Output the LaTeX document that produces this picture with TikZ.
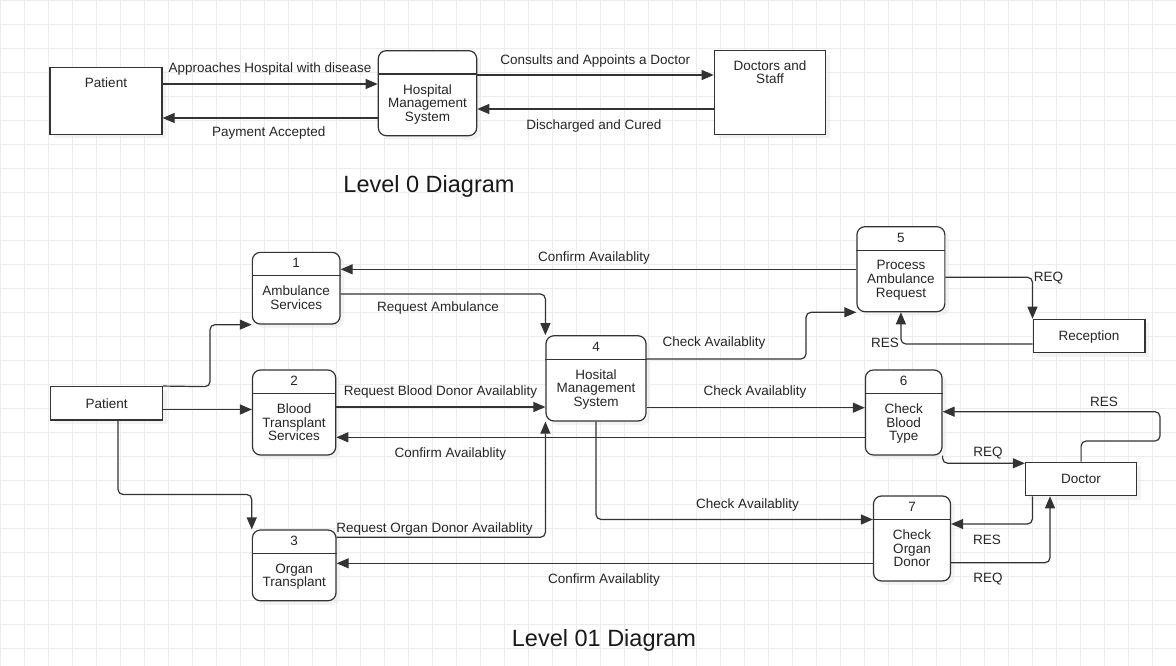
\documentclass[tikz,border=0pt]{standalone}
\usepackage{fontspec}
\setmainfont{Liberation Sans}
\usetikzlibrary{positioning, arrows.meta, shadows}

\definecolor{gridgray}{RGB}{236,236,236}
\definecolor{ink}{RGB}{51,51,51}
\definecolor{shade}{RGB}{232,232,232}

\tikzset{
  gridline/.style={draw=gridgray, line width=0.9pt},
  ent/.style={draw=ink, line width=1.2pt, fill=white, inner sep=0pt,
    font=\fontsize{13.5}{13.8}\selectfont, text=black!85,
    text height=9.7pt, text depth=0pt,
    drop shadow={shadow xshift=4pt, shadow yshift=-4pt, fill=shade, draw=none}},
  proc/.style={ent, rounded corners=8pt},
  hdr/.style={draw=ink, line width=1.2pt},
  txt/.style={font=\fontsize{13.5}{13.8}\selectfont, text=black!85, inner sep=0pt, align=center},
  lbl/.style={txt, anchor=base},
  flow/.style={draw=ink, line width=1.2pt, rounded corners=5pt, -{Triangle[length=12pt,width=10pt]}},
  ttl/.style={font=\fontsize{23.5}{28}\selectfont, text=black!90, inner sep=0pt, anchor=base}
}

\begin{document}
\begin{tikzpicture}[x=1pt, y=-1pt]
\useasboundingbox (0,0) rectangle (1176,666);
\fill[white] (0,0) rectangle (1176,666);
\draw[gridline] (0,666) grid[step=24pt] (1176,0);

% level 0
\node[ent, minimum width=112pt, minimum height=67pt] (pat0) at (106,100.8) {};
\node[proc, minimum width=98.4pt, minimum height=85pt] (hms0) at (427.5,93.2) {};
\node[ent, minimum width=111.4pt, minimum height=83.6pt] (doc0) at (770,92.5) {};
\draw[hdr] ([yshift=-24pt]hms0.north west) -- ([yshift=-24pt]hms0.north east);
\node[lbl] (pat0-tx) at ([yshift=-21pt]pat0.north) {Patient};
\node[txt, anchor=north] (hms0-tx) at ([yshift=-34pt]hms0.north) {Hospital\\Management\\System};
\node[txt, anchor=north] (doc0-tx) at ([yshift=-10pt]doc0.north) {Doctors and\\Staff};

\draw[flow] (pat0.east |- 0,84) -- (hms0.west |- 0,84);
\draw[flow] (hms0.west |- 0,118) -- (pat0.east |- 0,118);
\draw[flow] (hms0.east |- 0,75) -- (doc0.west |- 0,75);
\draw[flow] (doc0.west |- 0,109) -- (hms0.east |- 0,109);
\node[lbl] (l-appr) at (270,72.3) {Approaches Hospital with disease};
\node[lbl] (l-pay) at (268.7,136.7) {Payment Accepted};
\node[lbl] (l-cons) at (595.3,64.3) {Consults and Appoints a Doctor};
\node[lbl] (l-disc) at (594,129.3) {Discharged and Cured};
\node[ttl] (title0) at (429,192.3) {Level 0 Diagram};

% level 01
\node[ent, minimum width=111.8pt, minimum height=33.3pt] (pat) at (106.6,403.3) {Patient};
\node[ent, minimum width=111.8pt, minimum height=33.4pt] (rec) at (1089,336) {Reception};
\node[ent, minimum width=111.4pt, minimum height=33.4pt] (doc) at (1081.1,479) {Doctor};
\node[proc, minimum width=87.7pt, minimum height=71.7pt] (amb) at (296.2,288.2) {};
\node[proc, minimum width=83.2pt, minimum height=85pt] (bld) at (294.1,412.5) {};
\node[proc, minimum width=83.7pt, minimum height=70.7pt] (org) at (294.2,565.4) {};
\node[proc, minimum width=100pt, minimum height=85.3pt] (hms) at (596,378.4) {};
\node[proc, minimum width=87.9pt, minimum height=85pt] (amreq) at (900.9,269.2) {};
\node[proc, minimum width=76.6pt, minimum height=85pt] (bt) at (903.7,412.5) {};
\node[proc, minimum width=77pt, minimum height=85pt] (od) at (912,538.5) {};

\foreach \b/\k/\t in {amb/1/{Ambulance\\Services}, bld/2/{Blood\\Transplant\\Services},
    org/3/{Organ\\Transplant}, hms/4/{Hosital\\Management\\System},
    amreq/5/{Process\\Ambulance\\Request}, bt/6/{Check\\Blood\\Type}, od/7/{Check\\Organ\\Donor}}{
  \draw[hdr] ([yshift=-24pt]\b.north west) -- ([yshift=-24pt]\b.north east);
  \node[lbl] (\b-no) at ([yshift=-16pt]\b.north) {\k};
  \node[txt, anchor=north] (\b-tx) at ([yshift=-34pt]\b.north) {\t};
}

% patient to services
\draw[flow] (pat.north east) -- (210,386.7) |- (amb.south west);
\draw[flow] (pat.east |- 0,409.5) -- (bld.west |- 0,409.5);
\draw[flow] (pat.south -| 118,0) |- ([yshift=35pt]org.north west) -- (org.north west);

% services and hms
\draw[flow] (amb.east |- 0,294) -| (hms.north west);
\draw[flow] (amreq.west |- 0,269.3) -- (amb.east |- 0,269.3);
\draw[flow] (hms.east |- 0,359) -- (806,359) |- (amreq.south west);
\draw[flow] (amreq.east |- 0,277.3) -| (rec.north west);
\draw[flow] (rec.west |- 0,344) -| (amreq.south);
\draw[flow] (bld.east |- 0,407) -- (hms.west |- 0,407);
\draw[flow] (hms.east |- 0,407.7) -- (bt.west |- 0,407.7);
\draw[flow] (bt.west |- 0,437.3) -- (bld.east |- 0,437.3);
\draw[flow] (org.east |- 0,537.3) -| (hms.south west);
\draw[flow] (hms.south) |- (od.west |- 0,519.5);
\draw[flow] (od.west |- 0,563.3) -- (org.east |- 0,563.3);

% doctor
\draw[flow] (bt.south east) |- (doc.west |- 0,463.3);
\draw[flow] (doc.north) |- (1160,441) |- (bt.east |- 0,411.7);
\draw[flow] (doc.south -| 1032.4,0) |- (od.east |- 0,524);
\draw[flow] (od.east |- 0,562.7) -| (doc.south -| 1050,0);

\node[lbl] (l-confa) at (594,261.5) {Confirm Availablity};
\node[lbl] (l-reqamb) at (438,311.7) {Request Ambulance};
\node[lbl] (l-chk5) at (714,346.7) {Check Availablity};
\node[lbl] (l-req5) at (1048.4,281.7) {REQ};
\node[lbl] (l-res5) at (885,347.3) {RES};
\node[lbl] (l-reqbld) at (440.5,395) {Request Blood Donor Availablity};
\node[lbl] (l-chk6) at (755,395.7) {Check Availablity};
\node[lbl] (l-confb) at (450.3,457.3) {Confirm Availablity};
\node[lbl] (l-res6) at (1104,406) {RES};
\node[lbl] (l-req6) at (988,456) {REQ};
\node[lbl] (l-chk7) at (747.5,508) {Check Availablity};
\node[lbl] (l-reqorg) at (434.5,532.3) {Request Organ Donor Availablity};
\node[lbl] (l-res7) at (987,544) {RES};
\node[lbl] (l-confo) at (604,583.3) {Confirm Availablity};
\node[lbl] (l-req7) at (988,582) {REQ};
\node[ttl] (title1) at (604,646.5) {Level 01 Diagram};

\end{tikzpicture}
\end{document}
